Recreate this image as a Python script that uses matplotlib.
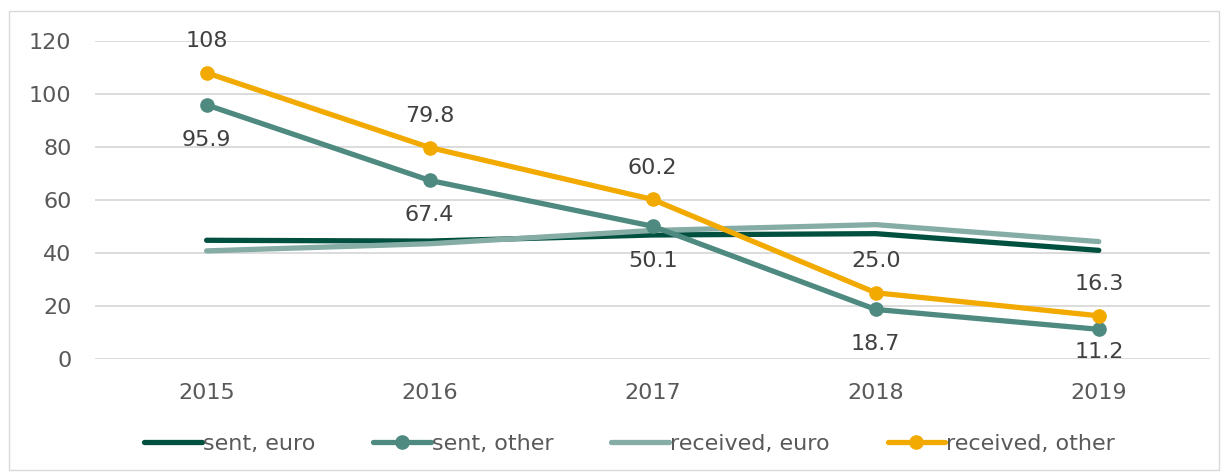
import matplotlib
matplotlib.use("Agg")
import matplotlib.pyplot as plt
from matplotlib.patches import Rectangle

years = ["2015", "2016", "2017", "2018", "2019"]
sent_euro = [44.8, 44.5, 46.8, 47.3, 41.0]
sent_other = [95.9, 67.4, 50.1, 18.7, 11.2]
received_euro = [40.8, 43.5, 48.5, 50.7, 44.3]
received_other = [108, 79.8, 60.2, 25.0, 16.3]
sent_other_labels = ["95.9", "67.4", "50.1", "18.7", "11.2"]
received_other_labels = ["108", "79.8", "60.2", "25.0", "16.3"]

plt.rcParams['font.family'] = ['DejaVu Sans']
FS = 16

fig = plt.figure(figsize=(12.25, 4.74), dpi=100)
ax = fig.add_axes([0.0776, 0.2426, 0.9104, 0.6709])

x = list(range(len(years)))
lw = 3.8
ax.plot(x, sent_euro, color="#00503F", lw=lw, solid_capstyle="round", label="sent, euro", zorder=3)
ax.plot(x, sent_other, color="#4E8A80", lw=lw, marker="o", ms=9.5, solid_capstyle="round", label="sent, other", zorder=4)
ax.plot(x, received_euro, color="#85ACA5", lw=lw, solid_capstyle="round", label="received, euro", zorder=3)
ax.plot(x, received_other, color="#F2AA00", lw=lw, marker="o", ms=9.5, solid_capstyle="round", label="received, other", zorder=5)

for xi, v, t in zip(x, received_other, received_other_labels):
    ax.annotate(t, (xi, v), xytext=(0, 23), textcoords="offset points",
                ha="center", va="center", fontsize=FS, color="#404040")
for i, (xi, v, t) in enumerate(zip(x, sent_other, sent_other_labels)):
    dy = -16 if i == len(x) - 1 else -25
    ax.annotate(t, (xi, v), xytext=(0, dy), textcoords="offset points",
                ha="center", va="center", fontsize=FS, color="#404040", zorder=6)

ax.set_xlim(-0.5, 4.5)
ax.set_ylim(0, 120)
ax.set_yticks(range(0, 121, 20))
ax.set_xticks(x)
ax.set_xticklabels(years)
ax.grid(axis="y", color="#D9D9D9", lw=1.3, zorder=0)
for s in ax.spines.values():
    s.set_visible(False)
ax.tick_params(axis="both", length=0, labelsize=FS, labelcolor="#595959")
ax.tick_params(axis="y", pad=17)
ax.tick_params(axis="x", pad=17)

fig.legend(loc="center", bbox_to_anchor=(0.514, 0.063), ncol=4, frameon=False,
           fontsize=FS, labelcolor="#595959", handlelength=2.6, handletextpad=0.05,
           columnspacing=2.6)

fig.patches.append(Rectangle((0.007, 0.008), 0.988, 0.968, transform=fig.transFigure,
                             fill=False, edgecolor="#D9D9D9", lw=1.0))

fig.savefig("out.png", dpi=100)
